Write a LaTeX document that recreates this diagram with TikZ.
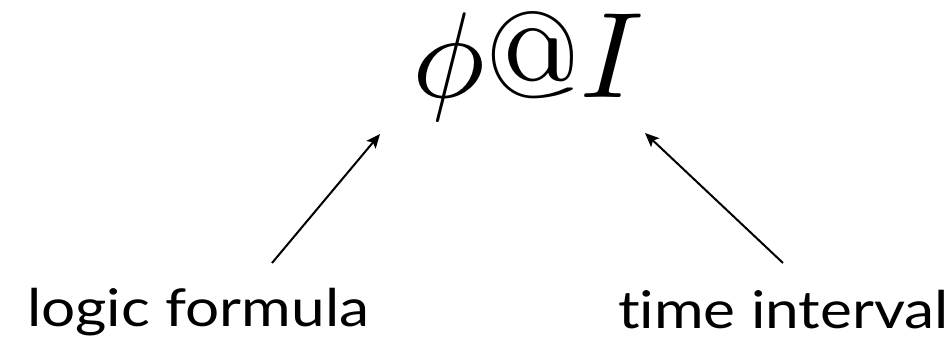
\documentclass[tikz,border=0pt]{standalone}
\usepackage{fontspec}
\setsansfont{Lato}[FakeStretch=1.16, Ligatures=NoCommon]
\usetikzlibrary{arrows.meta}
\tikzset{
  lbl/.style={font=\sffamily\fontsize{52}{60}\selectfont, inner sep=0pt, anchor=base west},
  pointer/.style={line width=2pt, -{Stealth[length=14pt,width=12pt,inset=3pt]}}
}
\begin{document}
\begin{tikzpicture}[x=1pt,y=-1pt]
\useasboundingbox (0,0) rectangle (952,347);
\node[inner sep=0pt, anchor=base] (formula) at (528,98) {\scalebox{12.2}{$\phi$@$I$}};
\node[lbl] (lf) at (27,326) {logic formula};
\node[lbl] (ti) at (618,328) {time interval};
\coordinate (lfs) at (272,263);
\coordinate (lft) at (380,134);
\coordinate (tis) at (783,263);
\coordinate (tit) at (645,133);
\draw[pointer] (lfs) -- (lft);
\draw[pointer] (tis) -- (tit);
\end{tikzpicture}
\end{document}
